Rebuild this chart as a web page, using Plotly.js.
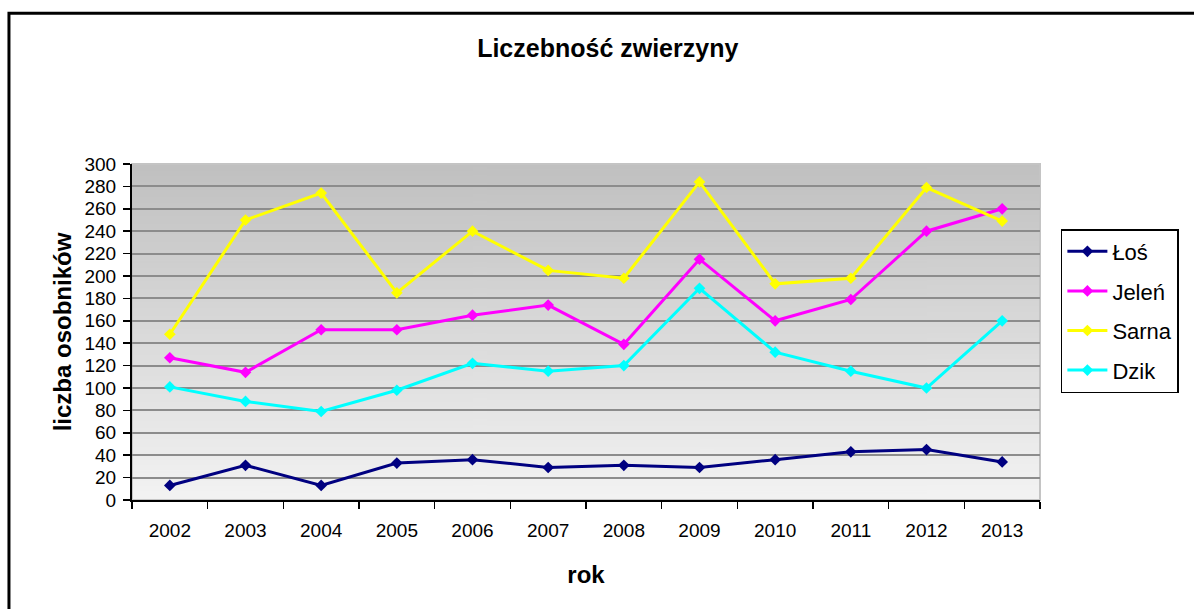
<!DOCTYPE html>
<html>
<head>
<meta charset="utf-8">
<script src="https://cdn.plot.ly/plotly-3.0.1.min.js"></script>
<style>
  html, body { margin: 0; padding: 0; background: #ffffff; }
  #chart { width: 1194px; height: 609px; }
</style>
</head>
<body>
<div id="chart"></div>
<script>
// ---- data ----
var years = ['2002','2003','2004','2005','2006','2007','2008','2009','2010','2011','2012','2013'];
var los   = [13, 31, 13, 33, 36, 29, 31, 29, 36, 43, 45, 34];
var jelen = [127, 114, 152, 152, 165, 174, 139, 215, 160, 179, 240, 260];
var sarna = [148, 250, 274, 185, 240, 205, 198, 284, 193, 198, 279, 249];
var dzik  = [101, 88, 79, 98, 122, 115, 120, 189, 132, 115, 100, 160];
var seriesNames = ['Łoś', 'Jeleń', 'Sarna', 'Dzik'];
var chartTitle = 'Liczebność zwierzyny';
var xTitle = 'rok';
var yTitle = 'liczba osobników';

// ---- styles ----
var colors = ['#000080', '#ff00ff', '#ffff00', '#00ffff'];
var seriesData = [los, jelen, sarna, dzik];
var FONT = 'Arial, "Liberation Sans", sans-serif';

// gradient background image
function gradientURL() {
  var c = document.createElement('canvas');
  c.width = 4; c.height = 256;
  var ctx = c.getContext('2d');
  var g = ctx.createLinearGradient(0, 0, 0, 256);
  g.addColorStop(0, '#c0c0c0');
  g.addColorStop(1, '#f3f3f3');
  ctx.fillStyle = g;
  ctx.fillRect(0, 0, 4, 256);
  return c.toDataURL('image/png');
}

var traces = seriesData.map(function (vals, i) {
  return {
    type: 'scatter',
    mode: 'lines+markers',
    x: years,
    y: vals,
    name: seriesNames[i],
    legendgroup: 'g' + i,
    line: { color: colors[i], width: 3 },
    marker: { color: colors[i], symbol: 'diamond', size: 9 },
    cliponaxis: false
  };
});

var layout = {
  width: 1194,
  height: 609,
  margin: { l: 132, r: 154, t: 164, b: 109 },
  paper_bgcolor: '#ffffff',
  plot_bgcolor: 'rgba(0,0,0,0)',
  font: { family: FONT, color: '#000000', size: 19 },
  title: {
    text: chartTitle,
    font: { family: FONT, size: 25, color: '#000000', weight: 'bold' },
    xref: 'container', x: 0.509, xanchor: 'center',
    yref: 'container', y: 0.921, yanchor: 'middle'
  },
  showlegend: true,
  legend: {
    x: 1.023, xanchor: 'left',
    y: 0.8065, yanchor: 'top',
    bgcolor: '#ffffff',
    bordercolor: '#000000',
    borderwidth: 1.5,
    font: { family: FONT, size: 22, color: '#000000' },
    tracegroupgap: 8,
    itemwidth: 40,
    traceorder: 'grouped'
  },
  xaxis: {
    type: 'category',
    range: [-0.5, 11.5],
    showgrid: false,
    zeroline: false,
    showline: true,
    linecolor: '#000000',
    linewidth: 2,
    ticks: 'outside',
    tickson: 'boundaries',
    ticklen: 7,
    tickwidth: 1.5,
    tickcolor: '#000000',
    tickfont: { family: FONT, size: 19, color: '#000000' },
    ticklabelstandoff: 12,
    title: {
      text: xTitle,
      font: { family: FONT, size: 24, color: '#000000', weight: 'bold' },
      standoff: 26
    },
    fixedrange: true
  },
  yaxis: {
    range: [0, 300],
    dtick: 20,
    tick0: 0,
    showgrid: true,
    gridcolor: '#8c8c8c',
    gridwidth: 2,
    zeroline: false,
    showline: true,
    linecolor: '#000000',
    linewidth: 2,
    ticks: 'outside',
    ticklen: 7,
    tickwidth: 1.5,
    tickcolor: '#000000',
    tickfont: { family: FONT, size: 19, color: '#000000' },
    ticklabelstandoff: 3,
    title: {
      text: yTitle,
      font: { family: FONT, size: 24, color: '#000000', weight: 'bold' },
      standoff: 6
    },
    fixedrange: true
  },
  images: [{
    source: gradientURL(),
    xref: 'paper', yref: 'paper',
    x: 0, y: 1, sizex: 1, sizey: 1,
    xanchor: 'left', yanchor: 'top',
    sizing: 'stretch',
    layer: 'below'
  }],
  shapes: [
    {
      type: 'rect', xref: 'paper', yref: 'paper',
      x0: 0, x1: 1, y0: 0, y1: 1,
      line: { color: '#c4c4c4', width: 2 },
      fillcolor: 'rgba(0,0,0,0)',
      layer: 'below'
    },
    {
      type: 'rect', xref: 'paper', yref: 'paper',
      x0: -0.1355, x1: 1.25, y0: -0.45, y1: 1.449,
      line: { color: '#000000', width: 3 },
      fillcolor: 'rgba(0,0,0,0)',
      layer: 'above'
    }
  ]
};

Plotly.newPlot('chart', traces, layout, { displayModeBar: false, staticPlot: true });
</script>
</body>
</html>
